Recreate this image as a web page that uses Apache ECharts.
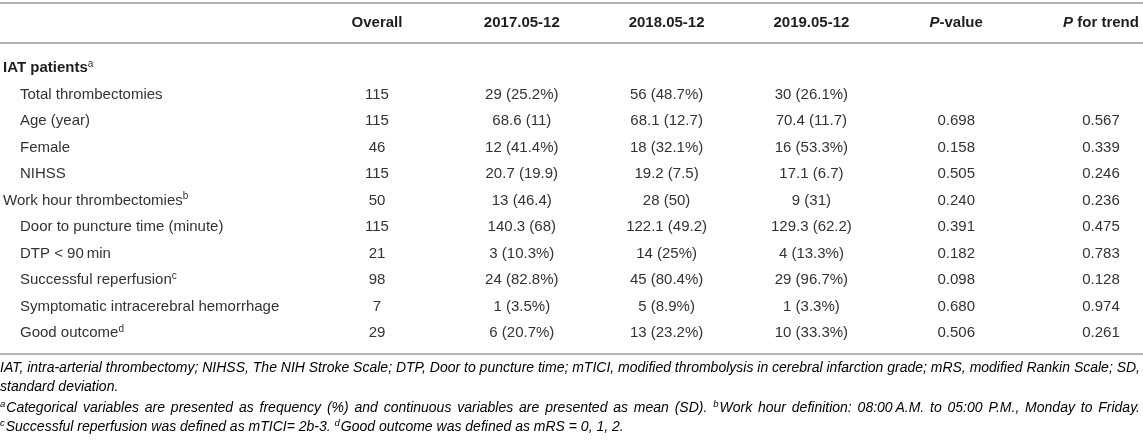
<!DOCTYPE html>
<html><head><meta charset="utf-8">
<script src="https://cdn.jsdelivr.net/npm/echarts@6/dist/echarts.min.js"></script>
<style>html,body{margin:0;padding:0;background:#fff}#c{width:1143px;height:440px}</style>
</head><body><div id="c"></div>
<script>
// ---- table data ----
const columns = ['Overall', '2017.05-12', '2018.05-12', '2019.05-12', 'P-value', 'P for trend'];
const rowLabels = ['IAT patients', 'Total thrombectomies', 'Age (year)', 'Female', 'NIHSS',
  'Work hour thrombectomies', 'Door to puncture time (minute)', 'DTP < 90\u2009min',
  'Successful reperfusion', 'Symptomatic intracerebral hemorrhage', 'Good outcome'];
const rowNotes = ['a', '', '', '', '', 'b', '', '', 'c', '', 'd'];
const rowKind = ['head', 'item', 'item', 'item', 'item', 'plain', 'item', 'item', 'item', 'item', 'item'];
const overall = ['', '115', '115', '46', '115', '50', '115', '21', '98', '7', '29'];
const period2017 = ['', '29 (25.2%)', '68.6 (11)', '12 (41.4%)', '20.7 (19.9)', '13 (46.4)', '140.3 (68)', '3 (10.3%)', '24 (82.8%)', '1 (3.5%)', '6 (20.7%)'];
const period2018 = ['', '56 (48.7%)', '68.1 (12.7)', '18 (32.1%)', '19.2 (7.5)', '28 (50)', '122.1 (49.2)', '14 (25%)', '45 (80.4%)', '5 (8.9%)', '13 (23.2%)'];
const period2019 = ['', '30 (26.1%)', '70.4 (11.7)', '16 (53.3%)', '17.1 (6.7)', '9 (31)', '129.3 (62.2)', '4 (13.3%)', '29 (96.7%)', '1 (3.3%)', '10 (33.3%)'];
const pValue = ['', '', '0.698', '0.158', '0.505', '0.240', '0.391', '0.182', '0.098', '0.680', '0.506'];
const pTrend = ['', '', '0.567', '0.339', '0.246', '0.236', '0.475', '0.783', '0.128', '0.974', '0.261'];
const footnoteLines = [
  [['t', 'IAT, intra-arterial thrombectomy; NIHSS, The NIH Stroke Scale; DTP, Door to puncture time; mTICI, modified thrombolysis in cerebral infarction grade; mRS, modified Rankin Scale; SD,']],
  [['t', 'standard deviation.']],
  [['s', 'a'], ['t', 'Categorical variables are presented as frequency (%) and continuous variables are presented as mean (SD). '], ['s', 'b'], ['t', 'Work hour definition: 08:00\u2009A.M. to 05:00 P.M., Monday to Friday.']],
  [['s', 'c'], ['t', 'Successful reperfusion was defined as mTICI= 2b-3. '], ['s', 'd'], ['t', 'Good outcome was defined as mRS = 0, 1, 2.']]
];
const footnoteJustify = [true, false, true, false];

// ---- rendering ----
const FONT = '"Liberation Sans", Arial, Helvetica, sans-serif';
const TXT = '#333';
const HEAD = '#1e1e1e';
const RULE = '#b4b4b4';
const chart = echarts.init(document.getElementById('c'), null, { renderer: 'canvas' });
const colValues = [overall, period2017, period2018, period2019, pValue, pTrend];
const cells = [];
colValues.forEach((arr, c) => arr.forEach((v, r) => { if (v !== '') cells.push([c, r, v]); }));

// footnote layout (justified lines like the source typesetting)
const FN_SIZE = 14, SUP_SIZE = 9.5, FULL_W = 1140;
const ctx = document.createElement('canvas').getContext('2d');
function measure(text, size) { ctx.font = 'italic ' + size + 'px ' + FONT; return ctx.measureText(text).width; }
const footY = [370, 389, 408, 427];
const footGraphics = footnoteLines.map((line, i) => {
  const tokens = [];
  line.forEach(seg => {
    if (seg[0] === 's') { tokens.push(['s', seg[1]]); return; }
    const parts = seg[1].split(' ');
    parts.forEach((w, k) => {
      if (w !== '') tokens.push(['t', w]);
      if (k < parts.length - 1) tokens.push(['sp', ' ']);
    });
  });
  while (tokens.length && tokens[tokens.length - 1][0] === 'sp') tokens.pop();
  let natural = 0, nSp = 0;
  tokens.forEach(t => {
    if (t[0] === 'sp') nSp++;
    else if (t[0] === 's') natural += measure(t[1], SUP_SIZE) + 1;
    else natural += measure(t[1], FN_SIZE);
  });
  const spW = footnoteJustify[i] && nSp ? Math.max((FULL_W - natural) / nSp, 1) : measure(' ', FN_SIZE);
  return {
    type: 'text', left: 0, top: footY[i] - 9,
    style: {
      text: tokens.map(t => '{' + t[0] + '|' + t[1] + '}').join(''),
      rich: {
        t: { fontFamily: FONT, fontSize: FN_SIZE, fontStyle: 'italic', color: TXT, lineHeight: 18 },
        sp: { fontFamily: FONT, fontSize: FN_SIZE, fontStyle: 'italic', color: TXT, lineHeight: 18, width: spW },
        s: { fontFamily: FONT, fontSize: SUP_SIZE, fontStyle: 'italic', color: TXT, lineHeight: 18, verticalAlign: 'top', padding: [0, 1, 6, 0] }
      }
    }
  };
});

const option = {
  animation: false,
  backgroundColor: '#fff',
  grid: { left: 377, right: 42, top: 54.75, bottom: 93.75 },
  xAxis: {
    type: 'category', data: columns, boundaryGap: false, position: 'top',
    axisLine: { show: false }, axisTick: { show: false }, splitLine: { show: false },
    axisLabel: {
      interval: 0, margin: 32, verticalAlign: 'middle',
      formatter: v => v.charAt(0) === 'P' ? '{i|P}{b|' + v.slice(1) + '}' : '{b|' + v + '}',
      rich: {
        b: { fontFamily: FONT, fontSize: 15, fontWeight: 'bold', color: HEAD },
        i: { fontFamily: FONT, fontSize: 15, fontWeight: 'bold', fontStyle: 'italic', color: HEAD }
      }
    }
  },
  yAxis: {
    type: 'category', data: rowLabels, inverse: true,
    axisLine: { show: false }, axisTick: { show: false }, splitLine: { show: false },
    axisLabel: {
      interval: 0, align: 'left', margin: 374,
      formatter: (v, i) => {
        const main = '{' + rowKind[i] + '|' + v + '}';
        return rowNotes[i] ? main + '{sup|' + rowNotes[i] + '}' : main;
      },
      rich: {
        head: { fontFamily: FONT, fontSize: 15, fontWeight: 'bold', color: HEAD, lineHeight: 18 },
        plain: { fontFamily: FONT, fontSize: 15, color: TXT, lineHeight: 18 },
        item: { fontFamily: FONT, fontSize: 15, color: TXT, lineHeight: 18, padding: [0, 0, 0, 17] },
        sup: { fontFamily: FONT, fontSize: 10, color: TXT, lineHeight: 18, verticalAlign: 'top', padding: [0, 0, 5, 0] }
      }
    }
  },
  series: [{
    type: 'custom',
    coordinateSystem: 'cartesian2d',
    data: cells.map(c => [c[0], c[1]]),
    encode: { x: 0, y: 1 },
    silent: true,
    renderItem: (params, api) => {
      const p = api.coord([api.value(0), api.value(1)]);
      return {
        type: 'text', x: p[0], y: p[1],
        style: { text: cells[params.dataIndex][2], fontFamily: FONT, fontSize: 15, fill: TXT, align: 'center', verticalAlign: 'middle' }
      };
    }
  }],
  graphic: [
    { type: 'line', shape: { x1: 0, y1: 3, x2: 1143, y2: 3 }, style: { stroke: RULE, lineWidth: 2 } },
    { type: 'line', shape: { x1: 0, y1: 43, x2: 1143, y2: 43 }, style: { stroke: RULE, lineWidth: 2 } },
    { type: 'line', shape: { x1: 0, y1: 354, x2: 1143, y2: 354 }, style: { stroke: RULE, lineWidth: 2 } }
  ].concat(footGraphics)
};
chart.setOption(option);
</script>
</body></html>
